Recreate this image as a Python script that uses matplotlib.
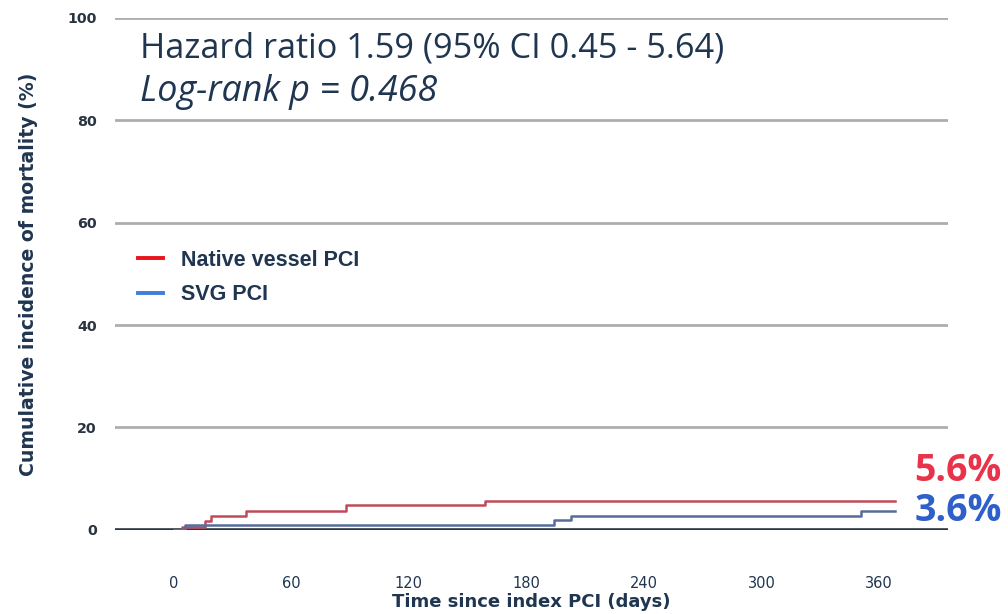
import matplotlib
matplotlib.use("Agg")
import matplotlib.pyplot as plt
from matplotlib import font_manager
from matplotlib.lines import Line2D

# step data (days, cumulative %)
native_days = [0, 4, 16, 19, 37, 88, 159, 368]
native_pct = [0, 0.6, 1.8, 2.7, 3.7, 4.8, 5.6, 5.6]
svg_days = [0, 6, 194, 203, 351, 368]
svg_pct = [0, 0.9, 1.9, 2.7, 3.6, 3.6]

series_names = ["Native vessel PCI", "SVG PCI"]
final_labels = ["5.6%", "3.6%"]
x_ticks = [0, 60, 120, 180, 240, 300, 360]
y_ticks = [0, 20, 40, 60, 80, 100]

# narrow font for ticks / x label if there is one
installed = {f.name for f in font_manager.fontManager.ttflist}
NARROW = "Liberation Sans Narrow" if "Liberation Sans Narrow" in installed else "DejaVu Sans"
narrow_ok = NARROW == "Liberation Sans Narrow"

NAVY = "#1f3550"
fig = plt.figure(figsize=(10.08, 6.14), dpi=100)
ax = fig.add_axes([0.114, 0.137, 0.826, 0.834])

for y in y_ticks[1:]:
    ax.axhline(y, color="#aeaeae", lw=2.0, zorder=1)
ax.axhline(0, color="#2b3445", lw=2.6, zorder=2)

ax.step(native_days, native_pct, where="post", color="#c04a5a", lw=1.8, zorder=3)
ax.step(svg_days, svg_pct, where="post", color="#566c9c", lw=1.8, zorder=3)

ax.set_xlim(-30, 395)
ax.set_ylim(0, 100)
ax.set_xticks(x_ticks)
ax.set_yticks(y_ticks)
for s in ax.spines.values():
    s.set_visible(False)
ax.tick_params(axis="both", length=0)
ax.tick_params(axis="y", pad=13)
ax.tick_params(axis="x", pad=33)
for lab in ax.get_yticklabels():
    lab.set_fontfamily(NARROW)
    lab.set_fontweight("bold")
    lab.set_fontsize(12 if narrow_ok else 10.3)
    lab.set_color("#2a3340")
for lab in ax.get_xticklabels():
    lab.set_fontfamily(NARROW)
    lab.set_fontsize(12.5 if narrow_ok else 10.5)
    lab.set_color(NAVY)

ax.set_ylabel("Cumulative incidence of mortality (%)", fontsize=13.6, fontweight="bold",
              color=NAVY)
ax.yaxis.set_label_coords(-0.092, 0.5)
ax.set_xlabel("Time since index PCI (days)", fontsize=15 if narrow_ok else 13,
              fontweight="bold", family=NARROW, color=NAVY, va="top")
ax.xaxis.set_label_coords(0.5, -0.124)

ax.text(0.030, 0.941, "Hazard ratio 1.59 (95% CI 0.45 - 5.64)", transform=ax.transAxes,
        fontsize=24.7, family="Open Sans", color=NAVY, va="center", ha="left")
ax.text(0.030, 0.855, "Log-rank p = 0.468", transform=ax.transAxes,
        fontsize=25.8, family="Open Sans", style="italic", color=NAVY, va="center", ha="left")

handles = [Line2D([], [], color="#e8141c", lw=2.8), Line2D([], [], color="#3f7fd8", lw=2.8)]
leg = ax.legend(handles, series_names, loc="upper left", bbox_to_anchor=(0.0276, 0.547),
                frameon=False, borderpad=0, borderaxespad=0, handlelength=1.15,
                handletextpad=0.87, labelspacing=0.62,
                prop={"family": "Liberation Sans", "weight": "bold", "size": 15.5})
for t in leg.get_texts():
    t.set_color(NAVY)

ax.annotate(final_labels[0], xy=(native_days[-1], native_pct[-1]), xytext=(14, 22),
            textcoords="offset points", fontsize=27, fontweight="bold", family="Open Sans",
            color="#e8334a", va="center", ha="left", annotation_clip=False)
ax.annotate(final_labels[1], xy=(svg_days[-1], svg_pct[-1]), xytext=(14, 0),
            textcoords="offset points", fontsize=27, fontweight="bold", family="Open Sans",
            color="#2f5fc9", va="center", ha="left", annotation_clip=False)

fig.savefig("out.png", dpi=100)
